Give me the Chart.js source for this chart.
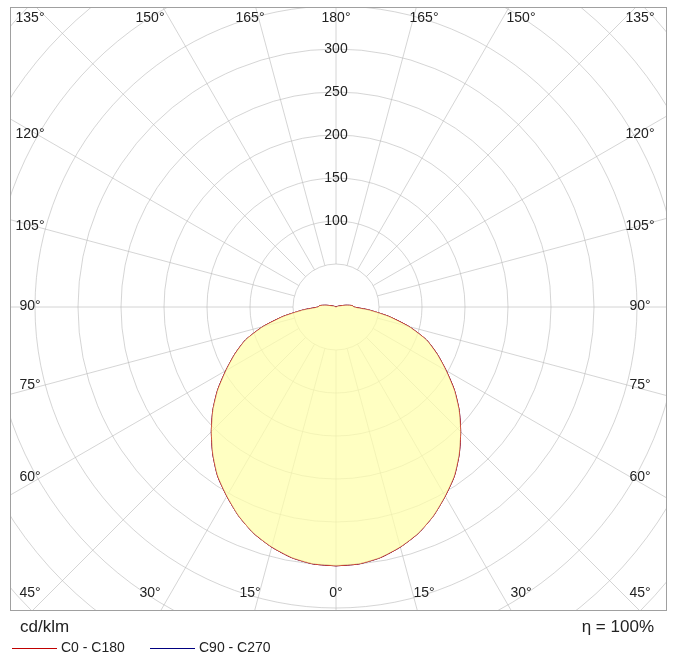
<!DOCTYPE html>
<html><head><meta charset="utf-8">
<script src="https://cdn.jsdelivr.net/npm/chart.js@4.4.0/dist/chart.umd.min.js"></script>
<style>
body{margin:0;background:#fff;font-family:"Liberation Sans",Arial,sans-serif;}
#wrap{position:relative;width:673px;height:664px;}
.t{position:absolute;color:#222;white-space:nowrap;}
</style></head><body>
<div id="wrap"><canvas id="c" width="673" height="664"></canvas>
<div class="t" style="left:20px;top:617px;font-size:17px;">cd/klm</div>
<div class="t" style="right:19px;top:617px;font-size:17px;">η = 100%</div>
<div class="t" style="left:12px;top:639px;font-size:14px;"><span style="display:inline-block;width:45px;border-top:1px solid #c00000;vertical-align:middle;margin-right:4px"></span>C0 - C180</div>
<div class="t" style="left:150px;top:639px;font-size:14px;"><span style="display:inline-block;width:45px;border-top:1px solid #000080;vertical-align:middle;margin-right:4px"></span>C90 - C270</div>
</div>
<script>
const gammaAngles = [0,5,10,15,20,25,30,35,40,45,50,55,60,65,70,75,80,85,90,95,100,105,110,115,120,180];
const c0c180 = [301,300,296,289,280,268,254,240,223,205,187,168,148,130,112,88,62,38,21,19,12,6,3,1,0,0];
const c90c270 = [301,300,296,289,280,268,254,240,223,205,187,168,148,130,112,88,62,38,21,19,12,6,3,1,0,0];
const ringValues = [50,100,150,200,250,300,350,400,450,500,550];
const ringLabels = ["100","150","200","250","300"];
const topLabels = ["135°","150°","165°","180°","165°","150°","135°"];
const sideLabels = ["120°","105°","90°","75°","60°"];
const bottomLabels = ["45°","30°","15°","0°","15°","30°","45°"];

function loop(vals){
  const pts=[];
  for(let i=0;i<gammaAngles.length;i++){const g=gammaAngles[i]*Math.PI/180;pts.push({x:vals[i]*Math.sin(g),y:-vals[i]*Math.cos(g)});}
  for(let i=gammaAngles.length-1;i>=0;i--){const g=gammaAngles[i]*Math.PI/180;pts.push({x:-vals[i]*Math.sin(g),y:-vals[i]*Math.cos(g)});}
  return pts;
}
const K=0.86;
const gridPlugin={id:'grid',
 beforeDatasetsDraw(ch){
  const {ctx,chartArea:a,scales:{x,y}}=ch;
  const cx=x.getPixelForValue(0), cy=y.getPixelForValue(0);
  const ppu=(x.getPixelForValue(100)-cx)/100;
  ctx.save();ctx.beginPath();ctx.rect(a.left,a.top,a.right-a.left,a.bottom-a.top);ctx.clip();
  ctx.strokeStyle='rgba(185,185,185,0.6)';ctx.lineWidth=1;
  ringValues.forEach(v=>{ctx.beginPath();ctx.arc(cx,cy,v*ppu,0,2*Math.PI);ctx.stroke();});
  for(let d=0;d<360;d+=15){const t=d*Math.PI/180;ctx.beginPath();
   ctx.moveTo(cx+50*ppu*Math.sin(t),cy+50*ppu*Math.cos(t));ctx.lineTo(cx+900*ppu*Math.sin(t),cy+900*ppu*Math.cos(t));ctx.stroke();}
  ctx.restore();
 },
 afterDatasetsDraw(ch){
  const {ctx,chartArea:a,scales:{x,y}}=ch;
  const cx=x.getPixelForValue(0);
  ctx.save();
  ctx.strokeStyle='#a0a0a0';ctx.lineWidth=1;ctx.strokeRect(a.left+0.5,a.top+0.5,a.right-a.left,a.bottom-a.top);
  ctx.fillStyle='#222';ctx.font='14px "Liberation Sans", Arial';ctx.textAlign='center';ctx.textBaseline='middle';
  ringLabels.forEach(l=>{ctx.fillText(l,cx,y.getPixelForValue(+l));});
  const tx=[30,150,250,336,424,521,640];
  topLabels.forEach((l,i)=>ctx.fillText(l,tx[i],18));
  bottomLabels.forEach((l,i)=>ctx.fillText(l,tx[i],593));
  const sy=[134,226,306,385,477];
  sideLabels.forEach((l,i)=>{ctx.fillText(l,30,sy[i]);ctx.fillText(l,640,sy[i]);});
  ctx.restore();
 }};
new Chart(document.getElementById('c'),{
 type:'scatter',
 data:{datasets:[
  {label:'fill',data:loop(c90c270),showLine:true,fill:'shape',backgroundColor:'rgba(255,255,170,0.72)',borderWidth:0,pointRadius:0,tension:0.2},
  {label:'C0 - C180',data:loop(c0c180),showLine:true,fill:false,borderColor:'#c00000',borderWidth:1,pointRadius:0,tension:0.2},
  {label:'C90 - C270',data:loop(c90c270),showLine:true,fill:false,borderColor:'rgba(0,0,128,0.75)',borderWidth:1,pointRadius:0,tension:0.2}
 ]},
 options:{responsive:false,animation:false,
  layout:{padding:{left:10,top:7,right:7,bottom:54}},
  plugins:{legend:{display:false},tooltip:{enabled:false}},
  scales:{x:{display:false,min:-326/K,max:330/K},y:{display:false,min:-303/K,max:300/K}}},
 plugins:[gridPlugin]
});
</script></body></html>
